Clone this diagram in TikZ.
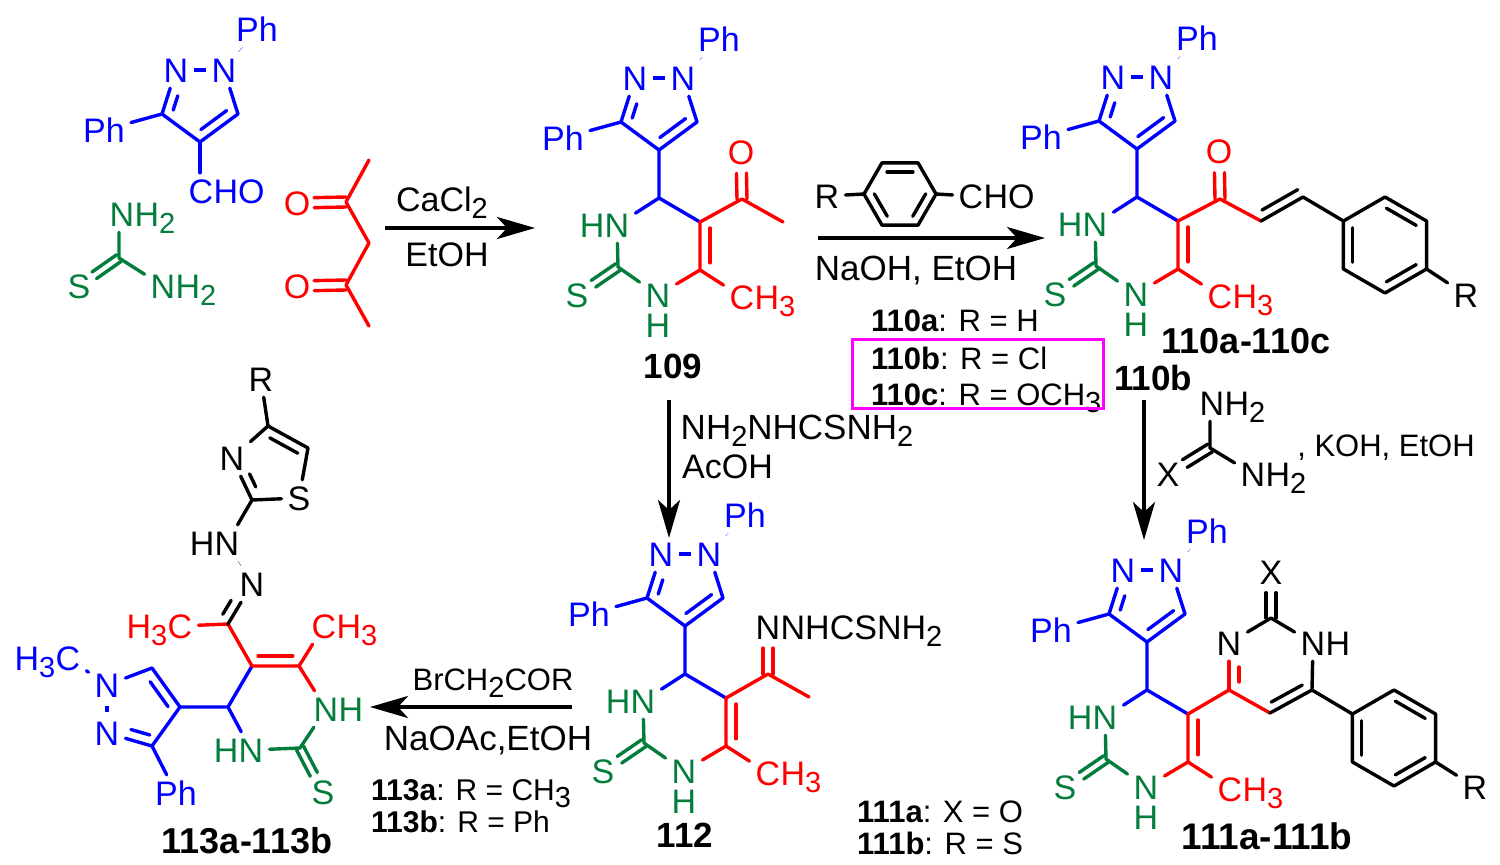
\documentclass[tikz,border=0pt]{standalone}
\usepackage{fontspec}
\setmainfont{Liberation Sans}
\usetikzlibrary{arrows.meta, calc, positioning}
\definecolor{tgreen}{HTML}{047C3C}
\definecolor{boxpink}{HTML}{FF00FF}

\newcommand\lowidx[1]{\raisebox{-7pt}{\fontsize{29}{29}\selectfont #1}}
\newcommand\sidebond[6][]{%
    \draw[bond,#1] ($(#2)!#5!(#3)!#4!90:(#3)$) -- ($(#2)!#6!(#3)!#4!90:(#3)$);}
\newcommand\pairbond[5][]{%
    \sidebond[#1]{#2}{#3}{#4}{0}{#5}
    \sidebond[#1]{#2}{#3}{-#4}{0}{#5}}
\newcommand\benzring[5]{%
    \begin{scope}[shift={(#2,#3)}, name prefix=#1]
    \foreach \k in {0,...,5} {
        \coordinate (k\k) at (#5+60*\k:#4);
    }
    \draw[bond] (k0) -- (k1) -- (k2) -- (k3) -- (k4) -- (k5) -- cycle;
    \foreach \k/\j in {0/1,2/3,4/5} {
        \sidebond{k\k}{k\j}{-9pt}{.14}{.86}
    }
    \end{scope}}
\newcommand\pyrazole[4][60,-159]{%
    \begin{scope}[shift={(#3,#4)}, name prefix=#2, blue]
    \coordinate (c3) at (-38,-76);
    \coordinate (c4) at (0,-48);
    \coordinate (c5) at (38,-76);
    \node[atom] (n1) at (-24,-120) {N};
    \node[atom] (n2) at (24,-120) {N};
    \node[atom] (pa) at (#1) {Ph};
    \node[atom] (pb) at (-96,-60) {Ph};
    \draw[bond] (n2) -- (c5) -- (c4) -- (c3) -- (n1);
    \draw[bond, line cap=butt] (n1) -- (n2);
    \draw[bond] (c3) -- (pb);
    \draw[hairbond] (n2) -- (pa);
    \sidebond{c3}{n1}{-9.5pt}{.155}{.48}
    \sidebond{c4}{c5}{9.5pt}{.17}{.85}
    \end{scope}}
\newcommand\thiocore[3]{%
    \pyrazole{#1}{#2}{#3}
    \begin{scope}[shift={(#2,#3)}, name prefix=#1]
    \coordinate (ch) at (0,0);
    \coordinate (ca) at (41,24);
    \coordinate (cb) at (41,72);
    \coordinate (cs) at (-41,69);
    \node[atom, tgreen] (hn) at (-42,27) {N};
    \node[taill=hn, tgreen] (hnh) {H};
    \node[atom, tgreen] (sx) at (-82,97) {S};
    \node[atom, tgreen] (nh) at (-1,97) {N};
    \node[tailb=nh, tgreen] (nhh) {H};
    \node[atom, red] (me) at (83,99) {C};
    \node[tailr=me, red] (meh) {H\lowidx{3}};
    \draw[bond, blue] (c4) -- (ch) -- (ca);
    \draw[bond, blue] (ch) -- (hn);
    \draw[bond, tgreen] (hn) -- (cs) -- (nh);
    \pairbond[tgreen]{cs}{sx}{4pt}{.6}
    \draw[bond, red] (nh) -- (cb) -- (ca);
    \draw[bond, red] (cb) -- (me);
    \sidebond[red]{ca}{cb}{10pt}{.125}{.85}
    \end{scope}}

\begin{document}
\begin{tikzpicture}[%
    x=1pt, y=-1pt,
    atom/.style = {font=\fontsize{34}{36}\selectfont, inner sep=6pt, text height=24pt, text depth=0pt},
    taill/.style = {atom, left=-12pt of #1},
    tailr/.style = {atom, right=-12pt of #1},
    tailb/.style = {atom, below=-6pt of #1},
    bond/.style = {line width=3.4pt, line cap=round, line join=round},
    hairbond/.style = {line width=0.25pt},
    note/.style = {font=\fontsize{#1}{36}\selectfont, inner sep=0pt, text height=24pt, text depth=0pt},
    note/.default = 34,
    cpd/.style = {font=\fontsize{#1}{36}\selectfont\bfseries, inner sep=0pt, text height=24pt, text depth=0pt},
    cpd/.default = 35,
    rxn/.style = {line width=3.4pt, -{Stealth[length=38pt, width=22pt, inset=10pt]}}
]
\useasboundingbox (0,0) rectangle (1500,865);

% aldehyde
\pyrazole[57,-161]{ald}{200}{190}
\node[atom, blue] (cho) at (201,191) {C};
\node[tailr=cho, blue] (choh) {HO};
\draw[bond, blue] (aldc4) -- (cho.north -| aldc4);

% thiourea
\coordinate (tuc) at (119,258);
\node[atom, tgreen] (tun1) at (122,214) {N};
\node[tailr=tun1, tgreen] (tuh1) {H\lowidx{2}};
\node[atom, tgreen] (tun2) at (163,286) {N};
\node[tailr=tun2, tgreen] (tuh2) {H\lowidx{2}};
\node[atom, tgreen] (tus) at (79,286) {S};
\draw[bond, tgreen] (tun1.south -| tuc) -- (tuc) -- (tun2);
\pairbond[tgreen]{tuc}{tus}{4pt}{.62}

% acetylacetone
\coordinate (acc1) at (346,202);
\coordinate (acc2) at (369,243);
\coordinate (acc3) at (346,285);
\coordinate (ace1) at (369,160);
\coordinate (ace2) at (369,326);
\node[atom, red] (aco1) at (297,203) {O};
\node[atom, red] (aco2) at (297,286) {O};
\draw[bond, red] (ace1) -- (acc1) -- (acc2) -- (acc3) -- (ace2);
\pairbond[red]{acc1}{aco1}{5pt}{.65}
\pairbond[red]{acc3}{aco2}{5pt}{.65}

% 109
\coordinate (a1s) at (385,228);
\coordinate (a1e) at (535,228);
\draw[rxn] (a1s) -- (a1e);
\node[note] (a1t) at (442,199) {CaCl\lowidx{2}};
\node[note] (a1b) at (447,254) {EtOH};
\thiocore{s109}{659}{198}
\coordinate (ac109) at (742,199);
\coordinate (ae109) at (783,222);
\node[atom, red] (o109) at (741,152) {O};
\draw[bond, red] (s109ca) -- (ac109) -- (ae109);
\pairbond[red]{ac109}{o109}{5pt}{.55}
\node[cpd] (l109) at (673,366) {109};

% 110
\coordinate (a2s) at (818,238);
\coordinate (a2e) at (1045,238);
\draw[rxn] (a2s) -- (a2e);
\benzring{rb}{900}{194}{36}{0}
\node[atom] (rr) at (827,196) {R};
\node[atom] (rc) at (971,196) {C};
\node[tailr=rc] (rch) {HO};
\draw[bond] (rr) -- (rbk3);
\draw[bond] (rbk0) -- (rc);
\node[note=35] (a2b) at (916,268) {NaOH, EtOH};
\thiocore{s110}{1137}{197}
\coordinate (ac110) at (1220,199);
\coordinate (cx110) at (1261,221);
\coordinate (cy110) at (1303,197);
\node[atom, red] (o110) at (1219,151) {O};
\draw[bond, red] (s110ca) -- (ac110) -- (cx110);
\pairbond[red]{ac110}{o110}{5pt}{.55}
\draw[bond] (cx110) -- (cy110);
\sidebond{cx110}{cy110}{9pt}{.13}{.98}
\benzring{b110}{1385}{245}{48}{30}
\draw[bond] (cy110) -- (b110k3);
\node[atom] (r110) at (1466,295) {R};
\draw[bond] (b110k0) -- (r110);
\node[cpd=36] (l110) at (1246,341) {110a-110c};
\node[note=31, anchor=west] (v110a) at (871,319) {{\bfseries 110a}: R = H};
\node[note=31, anchor=west] (v110b) at (871,357) {{\bfseries 110b}: R = Cl};
\node[note=31, anchor=west] (v110c) at (871,393) {{\bfseries 110c}: R = OCH\lowidx{3}};
\coordinate (boxa) at (852,339);
\coordinate (boxb) at (1103,408);
\draw[line width=3pt, boxpink] (boxa) rectangle (boxb);
\node[cpd] (l110b) at (1153,378) {110b};

% 112
\coordinate (a3s) at (669,400);
\coordinate (a3e) at (669,538);
\draw[rxn] (a3s) -- (a3e);
\node[note=35] (a3t) at (797,427) {NH\lowidx{2}NHCSNH\lowidx{2}};
\node[note, anchor=west] (a3b) at (682,466) {AcOH};
\thiocore{s112}{685}{674}
\coordinate (ac112) at (768,674);
\coordinate (ae112) at (809,697);
\node[atom] (n112) at (768,627) {N};
\node[tailr=n112] (nt112) {NHCSNH\lowidx{2}};
\draw[bond, red] (s112ca) -- (ac112) -- (ae112);
\pairbond[red]{ac112}{n112}{5pt}{.55}
\node[cpd] (l112) at (685,835) {112};

% 111
\coordinate (a4s) at (1144,400);
\coordinate (a4e) at (1144,540);
\draw[rxn] (a4s) -- (a4e);
\coordinate (gc) at (1210,448);
\node[atom] (gn1) at (1212,403) {N};
\node[tailr=gn1] (gh1) {H\lowidx{2}};
\node[atom] (gn2) at (1253,474) {N};
\node[tailr=gn2] (gh2) {H\lowidx{2}};
\node[atom] (gx) at (1168,474) {X};
\draw[bond] (gn1.south -| gc) -- (gc) -- (gn2);
\pairbond{gc}{gx}{4.5pt}{.6}
\node[note=31] (a4t) at (1386,444) {, KOH, EtOH};
\thiocore{s111}{1147}{690}
\coordinate (c6a) at (1229,690);
\coordinate (c5a) at (1270,713);
\coordinate (c4a) at (1312,690);
\coordinate (c2a) at (1271,618);
\node[atom] (n1a) at (1229,643) {N};
\node[atom] (n3a) at (1313,643) {N};
\node[tailr=n3a] (h3a) {H};
\node[atom] (xa) at (1271,572) {X};
\draw[bond, red] (s111ca) -- (c6a) -- (c5a);
\draw[bond, red] (c6a) -- (n1a);
\sidebond[red]{c6a}{n1a}{-10pt}{.17}{.49}
\draw[bond] (c5a) -- (c4a) -- (n3a) -- (c2a) -- (n1a);
\sidebond{c5a}{c4a}{9pt}{.13}{.87}
\pairbond{c2a}{xa}{5pt}{.55}
\benzring{b111}{1394}{738}{48}{30}
\draw[bond] (c4a) -- (b111k3);
\node[atom] (r111) at (1475,787) {R};
\draw[bond] (b111k0) -- (r111);
\node[cpd=37] (l111) at (1267,837) {111a-111b};
\node[note=31, anchor=west] (v111a) at (857,810) {{\bfseries 111a}: X = O};
\node[note=31, anchor=west] (v111b) at (857,842) {{\bfseries 111b}: R = S};

% 113
\coordinate (a5s) at (572,707);
\coordinate (a5e) at (370,707);
\draw[rxn] (a5s) -- (a5e);
\node[note=31] (a5t) at (493,678) {BrCH\lowidx{2}COR};
\node[note=35] (a5b) at (488,738) {NaOAc,EtOH};
\node[note=30, anchor=west] (v113a) at (371,788) {{\bfseries 113a}: R = CH\lowidx{3}};
\node[note=30, anchor=west] (v113b) at (371,820) {{\bfseries 113b}: R = Ph};
\coordinate (pc3) at (152,746);
\coordinate (pc4) at (180,707);
\coordinate (pc5) at (152,668);
\coordinate (qch) at (228,707);
\coordinate (qca) at (252,666);
\coordinate (qcb) at (299,666);
\coordinate (qcs) at (300,748);
\coordinate (qcn) at (228,624);
\coordinate (tc2) at (252,500);
\coordinate (tc4) at (268,426);
\coordinate (tc5) at (308,448);
\node[atom, blue] (pn1) at (107,685) {N};
\node[atom, blue] (pn2) at (107,733) {N};
\node[atom, blue] (pme) at (68,658) {C};
\node[taill=pme, blue] (pmeh) {H\lowidx{3}};
\node[atom, blue] (pph) at (176,793) {Ph};
\draw[bond, blue] (pn1) -- (pc5) -- (pc4) -- (pc3) -- (pn2);
\draw[bond, blue, line cap=butt, shorten <=3pt, shorten >=3pt] (pn1) -- (pn2);
\draw[bond, blue] (pn1) -- (pme);
\draw[bond, blue] (pc3) -- (pph);
\sidebond[blue]{pc5}{pc4}{-9.5pt}{.21}{.85}
\sidebond[blue]{pc3}{pn2}{-10pt}{.11}{.53}
\draw[bond, blue] (pc4) -- (qch) -- (qca);
\node[atom, tgreen] (qn1) at (251,750) {N};
\node[taill=qn1, tgreen] (qh1) {H};
\node[atom, tgreen] (qn2) at (326,709) {N};
\node[tailr=qn2, tgreen] (qh2) {H};
\node[atom, tgreen] (qs) at (323,792) {S};
\draw[bond, blue] (qch) -- (qn1);
\draw[bond, tgreen] (qn1) -- (qcs) -- (qn2);
\pairbond[tgreen]{qcs}{qs}{4pt}{.6}
\draw[bond, red] (qcn) -- (qca) -- (qcb) -- (qn2);
\sidebond[red]{qca}{qcb}{10pt}{.13}{.87}
\node[atom, red] (qme1) at (324,626) {C};
\node[tailr=qme1, red] (qme1h) {H\lowidx{3}};
\node[atom, red] (qme2) at (180,626) {C};
\node[taill=qme2, red] (qme2h) {H\lowidx{3}};
\draw[bond, red] (qcb) -- (qme1);
\draw[bond, red] (qcn) -- (qme2);
\node[atom] (zn) at (252,584) {N};
\node[atom] (zhn) at (227,543) {N};
\node[taill=zhn] (zh) {H};
\draw[bond] (qcn) -- (zn);
\sidebond{qcn}{zn}{9.5pt}{.12}{.47}
\draw[hairbond] (zn) -- (zhn);
\node[atom] (tn) at (232,458) {N};
\node[atom] (ts) at (299,498) {S};
\node[atom] (tr) at (261,379) {R};
\draw[bond] (zhn) -- (tc2) -- (tn) -- (tc4) -- (tc5) -- (ts) -- (tc2);
\draw[bond] (tc4) -- (tr);
\sidebond{tc4}{tc5}{-9.5pt}{.16}{.86}
\sidebond{tc2}{tn}{-9pt}{.22}{.53}
\node[cpd=36] (l113) at (247,841) {113a-113b};
\end{tikzpicture}
\end{document}
